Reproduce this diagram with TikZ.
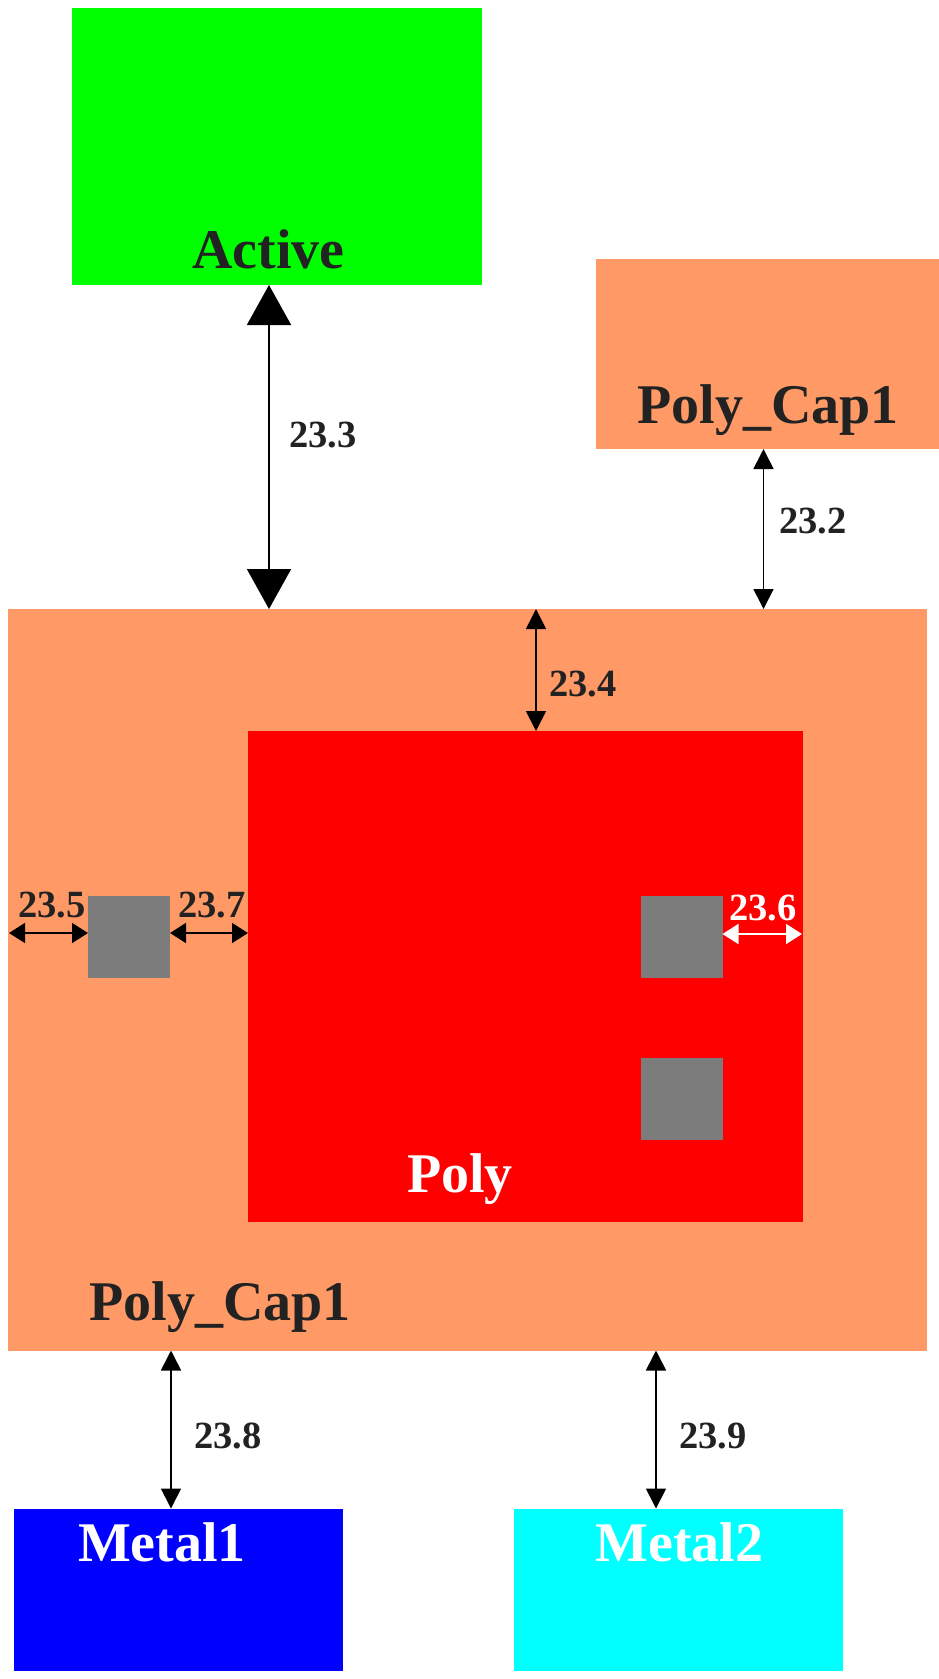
\documentclass[tikz,border=0pt]{standalone}
\usepackage{tikz}
\usepackage{xcolor}
\usepackage{fontspec}
\setmainfont{Liberation Serif}
\usetikzlibrary{arrows.meta}
\definecolor{capcolor}{RGB}{255,153,102}
\definecolor{viacolor}{RGB}{124,124,124}
\definecolor{inkcolor}{RGB}{34,34,34}
\definecolor{activecolor}{RGB}{0,255,0}
\definecolor{polycolor}{RGB}{255,0,0}
\definecolor{metalonecolor}{RGB}{0,0,255}
\definecolor{metaltwocolor}{RGB}{0,255,255}

\begin{document}
\begin{tikzpicture}[x=1pt, y=-1pt,
    layer/.style = {anchor=north west, inner sep=0, outer sep=0, minimum width=#1},
    via/.style = {anchor=north west, inner sep=0, outer sep=0, fill=viacolor,
      minimum width=82pt, minimum height=82pt},
    name text/.style = {anchor=base, inner sep=0, text=inkcolor,
      font=\fontsize{56}{60}\selectfont\bfseries},
    rule text/.style = {anchor=base, inner sep=0, text=inkcolor,
      font=\fontsize{38.5}{42}\selectfont\bfseries},
    rule arrow/.style = {line width=1.7pt, {Triangle[length=20pt,width=20pt]}-{Triangle[length=20pt,width=20pt]}},
    big arrow/.style = {line width=1.7pt, {Triangle[length=40pt,width=44pt]}-{Triangle[length=40pt,width=44pt]}},
    side arrow/.style = {line width=1.7pt, {Triangle[length=16pt,width=20pt]}-{Triangle[length=16pt,width=20pt]}}]
    \useasboundingbox (0,0) rectangle (939,1679);
    % layers
    \node[layer=410pt, minimum height=277pt, fill=activecolor] (active) at (72,8) {};
    \node[layer=343pt, minimum height=190pt, fill=capcolor] (captop) at (596,259) {};
    \node[layer=919pt, minimum height=741.5pt, fill=capcolor] (capbig) at (8,609) {};
    \node[layer=555pt, minimum height=490.5pt, fill=polycolor] (poly) at (248,731) {};
    \node[layer=328.5pt, minimum height=162pt, fill=metalonecolor] (metalone) at (14,1508.5) {};
    \node[layer=328.5pt, minimum height=162pt, fill=metaltwocolor] (metaltwo) at (514,1508.5) {};
    % contacts
    \node[via] (vialeft) at (88,896) {};
    \node[via] (viaright) at (640.5,896) {};
    \node[via] (vialow) at (640.5,1058) {};
    % layer names
    \node[name text] (activetext) at (268.5,268) {Active};
    \node[name text] (captoptext) at (768,423) {Poly\_Cap1};
    \node[name text] (capbigtext) at (220,1320) {Poly\_Cap1};
    \node[name text, text=white] (polytext) at (460,1192) {Poly};
    \node[name text, text=white] (metalonetext) at (162,1561) {Metal1};
    \node[name text, text=white] (metaltwotext) at (679.5,1561) {Metal2};
    % arrow positions
    \coordinate (xthree) at (269,0);
    \coordinate (xtwo) at (763.5,0);
    \coordinate (xfour) at (536,0);
    \coordinate (xeight) at (171,0);
    \coordinate (xnine) at (656,0);
    \coordinate (yside) at (0,933);
    \coordinate (edgeleft) at (9,933);
    \coordinate (yinner) at (0,934);
    % rules
    \draw[big arrow] (xthree |- active.south) -- (xthree |- capbig.north);
    \draw[rule arrow] (xtwo |- captop.south) -- (xtwo |- capbig.north);
    \draw[rule arrow] (xfour |- capbig.north) -- (xfour |- poly.north);
    \draw[side arrow] (edgeleft) -- (vialeft.west |- yside);
    \draw[side arrow] (vialeft.east |- yside) -- (poly.west |- yside);
    \draw[side arrow, white] (viaright.east |- yinner) -- ([xshift=-1pt]poly.east |- yinner);
    \draw[rule arrow] (xeight |- capbig.south) -- (xeight |- metalone.north);
    \draw[rule arrow] (xnine |- capbig.south) -- (xnine |- metaltwo.north);
    % rule numbers
    \node[rule text] (rulethree) at (323,447) {23.3};
    \node[rule text] (ruletwo) at (813,533) {23.2};
    \node[rule text] (rulefour) at (583,696) {23.4};
    \node[rule text] (rulefive) at (51.7,917) {23.5};
    \node[rule text] (ruleseven) at (211.7,917) {23.7};
    \node[rule text, text=white] (rulesix) at (763,920) {23.6};
    \node[rule text] (ruleeight) at (228,1448.5) {23.8};
    \node[rule text] (rulenine) at (713,1448.5) {23.9};
\end{tikzpicture}
\end{document}
